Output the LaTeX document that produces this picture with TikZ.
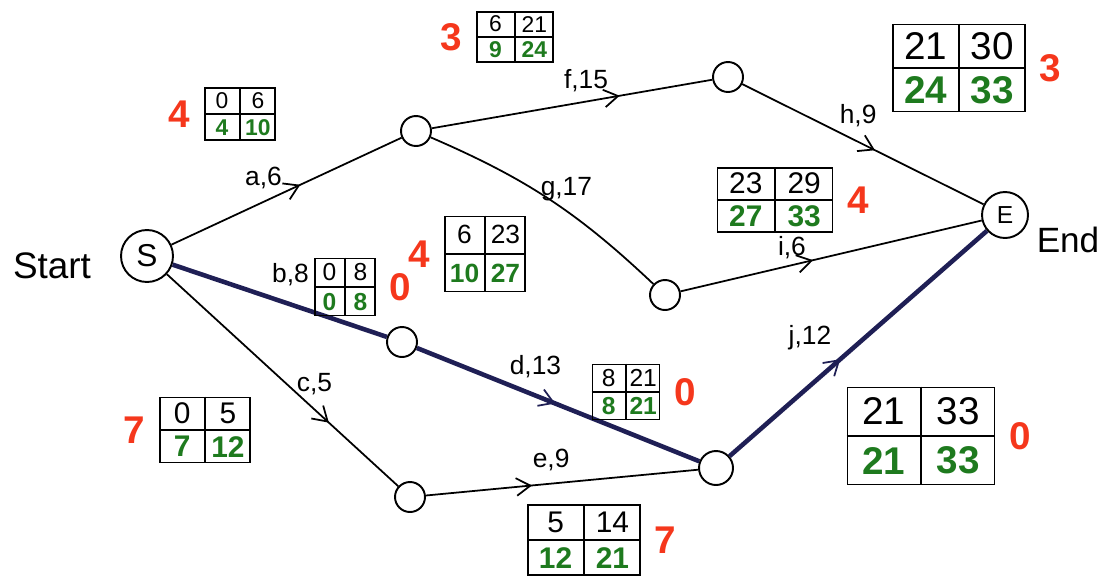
\documentclass[tikz,border=0pt]{standalone}
\usepackage{fontspec}
\setmainfont{Liberation Sans}
\usetikzlibrary{positioning, arrows.meta, decorations.markings, calc}
\definecolor{pertGreen}{HTML}{1E7A1E}
\definecolor{slackRed}{HTML}{F5371C}
\definecolor{critNavy}{HTML}{1F1F55}

% box with ES EF on top, LS LF (green) below
\newcommand{\ptable}[9]{%
  \node[tbox, minimum width=#3*0.02cm, minimum height=#4*0.02cm] (#1) at (#2) {};
  \draw (#1.north) -- (#1.south) (#1.west) -- (#1.east);
  \node[font=\fontsize{#5}{#5}\selectfont] (#1-es) at ($(#1.center)!0.5!(#1.north west)$) {#6};
  \node[font=\fontsize{#5}{#5}\selectfont] (#1-ef) at ($(#1.center)!0.5!(#1.north east)$) {#7};
  \node[late, font=\fontsize{#5}{#5}\selectfont\bfseries] (#1-ls) at ($(#1.center)!0.5!(#1.south west)$) {#8};
  \node[late, font=\fontsize{#5}{#5}\selectfont\bfseries] (#1-lf) at ($(#1.center)!0.5!(#1.south east)$) {#9};
}

\begin{document}
\begin{tikzpicture}[x=0.02cm, y=-0.02cm, line width=1pt,
    event/.style={circle, draw, line width=1.1pt, minimum size=0.6cm, inner sep=0pt},
    lbl/.style={text=black, inner sep=1pt, font=\fontsize{15}{15}\selectfont},
    tbox/.style={draw, line width=1pt, inner sep=0pt},
    slack/.style={text=slackRed, font=\fontsize{22}{22}\selectfont\bfseries},
    late/.style={text=pertGreen},
    crit/.style={line width=2.6pt, critNavy},
    midarrow/.style={postaction={decorate}, decoration={markings,
      mark=at position #1 with {\arrow{Straight Barb[length=8pt, width=10pt, line width=1pt]}}}}]
  \useasboundingbox (0,0) rectangle (1101,579);

  % events
  \node[event, minimum size=1.04cm, font=\fontsize{18}{18}\selectfont] (s) at (147,256) {S};
  \node[event] (n2) at (416,131) {};
  \node[event] (n3) at (728,77) {};
  \node[event] (n4) at (665,295) {};
  \node[event] (n5) at (402,342) {};
  \node[event, minimum size=0.68cm] (n6) at (716,468) {};
  \node[event] (n7) at (410,497) {};
  \node[event, minimum size=0.92cm, font=\fontsize{14}{14}\selectfont] (fin) at (1005,215) {E};
  \node[font=\fontsize{21}{21}\selectfont] (start) at (52,266) {Start};
  \node[font=\fontsize{20}{20}\selectfont] (end) at (1068,240) {End};

  % activities
  \draw[midarrow=0.56] (s) -- node[lbl, pos=0.4, above=6pt] (la) {a,6} (n2);
  \draw[midarrow=0.67] (n2) -- node[lbl, pos=0.55, above=4pt] (lf) {f,15} (n3);
  \draw[midarrow=0.55] (n3) -- node[lbl, pos=0.48, above=7pt] (lh) {h,9} (fin);
  \draw (n2) to[bend left=10] node[lbl, pos=0.42, right=3pt] (lg) {g,17} (n4);
  \draw[midarrow=0.44] (n4) -- node[lbl, pos=0.37, above=2pt] (li) {i,6} (fin);
  \draw[crit] (s) -- node[lbl, pos=0.55, above=8pt] (lb) {b,8} (n5);
  \draw[crit, midarrow=0.49] (n5) -- node[lbl, pos=0.42, above=8pt] (ld) {d,13} (n6);
  \draw[crit, midarrow=0.43] (n6) -- node[lbl, pos=0.43, above left=4pt] (lj) {j,12} (fin);
  \draw[midarrow=0.7] (s) -- node[lbl, pos=0.52, right=4pt] (lc) {c,5} (n7);
  \draw[midarrow=0.39] (n7) -- node[lbl, pos=0.46, above=6pt] (le) {e,9} (n6);

  % time boxes and slack
  \ptable{ta}{240,114}{70}{52}{13pt}{0}{6}{4}{10}
  \node[slack, left=4pt of ta] (sa) {4};
  \ptable{tf}{515,37}{76}{50}{13pt}{6}{21}{9}{24}
  \node[slack, left=4pt of tf] (sf) {3};
  \ptable{th}{959,68}{132}{87}{22pt}{21}{30}{24}{33}
  \node[slack, right=4pt of th] (sh) {3};
  \ptable{tg}{485,254}{80}{75}{15pt}{6}{23}{10}{27}
  \node[slack, left=4pt of tg] (sg) {4};
  \ptable{ti}{775,200}{115}{64}{17pt}{23}{29}{27}{33}
  \node[slack, right=4pt of ti] (si) {4};
  \ptable{tb}{345,287}{60}{57}{14pt}{0}{8}{0}{8}
  \node[slack, right=4pt of tb] (sb) {0};
  \ptable{td}{626,392}{67}{55}{14pt}{8}{21}{8}{21}
  \node[slack, right=4pt of td] (sd) {0};
  \ptable{tj}{921,436}{147}{97}{22pt}{21}{33}{21}{33}
  \node[slack, right=4pt of tj] (sj) {0};
  \ptable{tc}{205,430}{90}{65}{17pt}{0}{5}{7}{12}
  \node[slack, left=4pt of tc] (sc) {7};
  \ptable{te}{584,540}{112}{70}{17pt}{5}{14}{12}{21}
  \node[slack, right=4pt of te] (se) {7};
\end{tikzpicture}
\end{document}
